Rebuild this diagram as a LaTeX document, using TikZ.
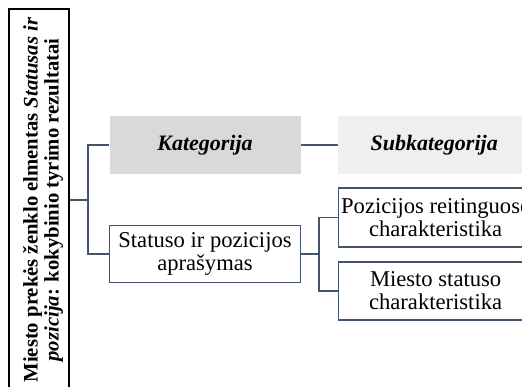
\documentclass[tikz,border=0pt]{standalone}
\usepackage{fontspec}
\setmainfont{Liberation Serif}
\definecolor{edge}{HTML}{44546A}
\definecolor{headfill}{HTML}{D9D9D9}
\definecolor{subfill}{HTML}{EFEFEF}
\tikzset{
  conn/.style={draw=edge, line width=1.2pt},
  itembox/.style={draw=edge, line width=1.2pt, fill=white, rectangle,
    align=center, inner sep=0pt, font=\fontsize{22.6}{23}\selectfont},
  headbox/.style={rectangle, inner sep=0pt, align=center,
    font=\fontsize{22}{23}\selectfont\bfseries\itshape},
}
\begin{document}
\begin{tikzpicture}[x=1pt,y=-1pt]
\useasboundingbox (0,0) rectangle (522,387);
\clip (0,0) rectangle (522,387);
% title column
\node[draw=black, line width=1.6pt, rectangle, minimum width=60pt, minimum height=400pt,
  inner sep=0pt, anchor=north west] (title) at (8,8) {};
\node[rotate=90, align=center, font=\fontsize{20.7}{21}\selectfont\bfseries] (titletext) at (43,200)
  {Miesto prekės ženklo elmentas \textit{Statusas ir}\\\textit{pozicija}: kokybinio tyrimo rezultatai};
% headers
\node[headbox, fill=headfill, minimum width=191pt, minimum height=58pt] (cat) at (205,145) {Kategorija};
\node[headbox, fill=subfill, minimum width=192pt, minimum height=58pt, anchor=west] (sub) at (338,145) {Subkategorija};
% items
\node[itembox, minimum width=191pt, minimum height=57pt] (stat) at (205,254) {Statuso ir pozicijos\\aprašymas};
\node[itembox, minimum width=194pt, minimum height=59pt, anchor=west] (poz) at (338,217.5) {Pozicijos reitinguose\\charakteristika};
\node[itembox, minimum width=194pt, minimum height=58pt, anchor=west] (mst) at (338,291) {Miesto statuso\\charakteristika};
% connectors
\coordinate (j1) at (88,200);
\coordinate (j2) at (319,254);
\draw[conn] (title.east |- j1) -- (j1);
\draw[conn] (cat.west) -| (j1) |- (stat.west);
\draw[conn] (cat.east) -- (sub.west);
\draw[conn] (stat.east) -- (j2);
\draw[conn] (poz.west) -| (j2) |- (mst.west);
\end{tikzpicture}
\end{document}
